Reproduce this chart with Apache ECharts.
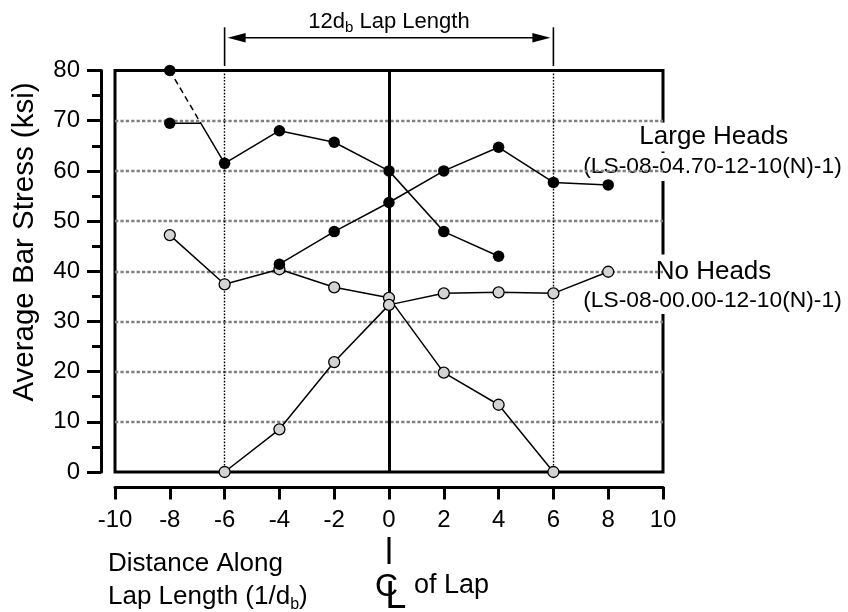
<!DOCTYPE html>
<html><head><meta charset="utf-8">
<script src="https://cdn.jsdelivr.net/npm/echarts@6/dist/echarts.min.js"></script>
<style>html,body{margin:0;padding:0;background:#fff}#c{width:848px;height:612px}</style>
</head><body><div id="c"></div>
<script>
const FONT = '"Liberation Sans", Arial, sans-serif';

// ---- data ----
// Large heads (LS-08-04.70-12-10(N)-1)
const largeDescX = [-8, -6.87, -6, -4, -2, 0, 2, 4];
const largeDescY = [69.5, 69.5, 61.5, 68.0, 65.7, 60.0, 47.9, 43.0];
const largeDescMark = [true, false, true, true, true, true, true, true];
const largeDashX = [-8, -6.87];
const largeDashY = [80, 69.5];
const largeAscX = [-4, -2, 0, 2, 4, 6, 8];
const largeAscY = [41.4, 47.9, 53.7, 60.0, 64.7, 57.7, 57.2];
// No heads (LS-08-00.00-12-10(N)-1)
const noDescX = [-8, -6, -4, -2, 0, 2, 4, 6];
const noDescY = [47.2, 37.4, 40.4, 36.8, 34.7, 19.8, 13.4, 0];
const noAscX = [-6, -4, -2, 0, 2, 4, 6, 8];
const noAscY = [0, 8.5, 21.9, 33.3, 35.6, 35.8, 35.6, 39.9];
// guides
const gridValues = [10, 20, 30, 40, 50, 60, 70];
const lapEnds = [-6, 6];
const lapCenter = 0;
const xMin = -10, xMax = 10, xStep = 2;
const yMin = 0, yMax = 80, yStep = 10;

function pts(xs, ys, marks) {
  return xs.map((x, i) => (marks && !marks[i]) ? { value: [x, ys[i]], symbol: 'none' } : [x, ys[i]]);
}

const chart = echarts.init(document.getElementById('c'), null, { renderer: 'canvas' });

const blackLine = (data, dash) => ({
  type: 'line', data, z: 6, clip: false, silent: true,
  symbol: 'circle', symbolSize: 11.5,
  lineStyle: { color: '#000', width: 1.5, type: dash || 'solid' },
  itemStyle: { color: '#000', borderWidth: 0 },
  emphasis: { disabled: true }, animation: false
});
const grayLine = (data) => ({
  type: 'line', data, z: 5, clip: false, silent: true,
  symbol: 'circle', symbolSize: 11,
  lineStyle: { color: '#000', width: 1.5 },
  itemStyle: { color: '#d3d3d3', borderColor: '#000', borderWidth: 1.3 },
  emphasis: { disabled: true }, animation: false
});

const option = {
  animation: false,
  backgroundColor: '#fff',
  grid: { left: 115, right: 185, top: 70.5, bottom: 140, show: true, borderColor: '#000', borderWidth: 3, z: 2, containLabel: false, outerBoundsMode: 'none' },
  xAxis: {
    type: 'value', min: xMin, max: xMax, interval: xStep, position: 'bottom', offset: 15, z: 0,
    axisLine: { show: true, onZero: false, lineStyle: { color: '#000', width: 3 } },
    axisTick: { show: true, length: 12.5, lineStyle: { color: '#000', width: 3 } },
    axisLabel: { color: '#000', fontSize: 24, fontFamily: FONT, margin: 21 },
    splitLine: { show: false }
  },
  yAxis: {
    type: 'value', min: yMin, max: yMax, interval: yStep, position: 'left', offset: 14, z: 0,
    axisLine: { show: true, onZero: false, lineStyle: { color: '#000', width: 3 } },
    axisTick: { show: true, length: 14, lineStyle: { color: '#000', width: 3 } },
    minorTick: { show: true, splitNumber: 2, length: 9, lineStyle: { color: '#000', width: 3 } },
    axisLabel: { color: '#000', fontSize: 24, fontFamily: FONT, margin: 21 },
    splitLine: { show: false }
  },
  series: [
    { type: 'line', data: [], z: 1, silent: true,
      markLine: { silent: true, animation: false, symbol: ['none', 'none'], label: { show: false },
        lineStyle: { color: '#808080', width: 2.3, type: [3.3, 2.1] },
        emphasis: { disabled: true },
        data: gridValues.map(v => ({ yAxis: v })) } },
    { type: 'line', data: [], z: 4, silent: true,
      markLine: { silent: true, animation: false, symbol: ['none', 'none'], label: { show: false },
        emphasis: { disabled: true },
        data: [
          ...lapEnds.map(v => ({ xAxis: v, lineStyle: { color: '#000', width: 1.4, type: [1.6, 1.6] } })),
          { xAxis: lapCenter, lineStyle: { color: '#000', width: 3, type: 'solid' } }
        ] } },
    grayLine(pts(noDescX, noDescY)),
    grayLine(pts(noAscX, noAscY)),
    blackLine(pts(largeDashX, largeDashY, [true, false]), [6, 4]),
    blackLine(pts(largeDescX, largeDescY, largeDescMark)),
    blackLine(pts(largeAscX, largeAscY))
  ]
};
chart.setOption(option);

const px = (x, y) => chart.convertToPixel({ gridIndex: 0 }, [x, y]);
const xL = px(lapEnds[0], 0)[0], xR = px(lapEnds[1], 0)[0], x0 = px(lapCenter, 0)[0];
const arrowY = 37.7;

function txt(x, y, text, size, extra, z) {
  return { type: 'text', x, y, z: z || 3, silent: true,
    style: Object.assign({ text, fontSize: size, fontFamily: FONT, fill: '#000', align: 'center', verticalAlign: 'middle' }, extra || {}) };
}
const lineEl = (x1, y1, x2, y2, w) => ({ type: 'line', silent: true, z: 4, shape: { x1, y1, x2, y2 }, style: { stroke: '#000', lineWidth: w } });

chart.setOption({
  graphic: [
    // 12db lap length annotation
    txt(x0, 21.5, '{a|12d}{s|b}{a| Lap Length}', 22, { rich: {
      a: { fontSize: 22, fontFamily: FONT, lineHeight: 28 },
      s: { fontSize: 15, fontFamily: FONT, lineHeight: 15, verticalAlign: 'bottom' } } }),
    lineEl(xL, 27.3, xL, 66, 1.6),
    lineEl(xR, 27.3, xR, 66, 1.6),
    lineEl(xL + 10, arrowY, xR - 10, arrowY, 1.6),
    { type: 'polygon', silent: true, z: 4, shape: { points: [[xL + 3, arrowY], [xL + 21, arrowY - 4.7], [xL + 21, arrowY + 4.7]] }, style: { fill: '#000' } },
    { type: 'polygon', silent: true, z: 4, shape: { points: [[xR - 3, arrowY], [xR - 21, arrowY - 4.7], [xR - 21, arrowY + 4.7]] }, style: { fill: '#000' } },
    // right labels
    txt(713.8, 137, 'Large Heads', 26, { backgroundColor: '#fff', padding: [0, 4, 3, 4] }),
    txt(712.5, 167, '(LS-08-04.70-12-10(N)-1)', 22.8, { backgroundColor: '#fff', padding: [3, 2, 2, 2] }),
    txt(713.5, 272, 'No Heads', 26, { backgroundColor: '#fff', padding: [6, 7, 3, 7] }),
    txt(712.5, 301, '(LS-08-00.00-12-10(N)-1)', 22.8, { backgroundColor: '#fff', padding: [2, 2, 1, 2] }),
    // y axis title
    Object.assign(txt(24.5, 242, 'Average Bar Stress (ksi)', 29.5), { rotation: Math.PI / 2 }),
    // x axis title
    txt(108, 564, 'Distance Along', 26, { align: 'left' }),
    txt(108, 597, '{a|Lap Length (1/d}{s|b}{a|)}', 26, { align: 'left', rich: {
      a: { fontSize: 26, fontFamily: FONT, lineHeight: 32 },
      s: { fontSize: 16, fontFamily: FONT, lineHeight: 16, verticalAlign: 'bottom' } } }),
    // centre line of lap
    lineEl(x0, 537, x0, 564, 3),
    txt(386.5, 587, 'C', 32),
    txt(385.2, 598, 'L', 38, { align: 'left' }),
    txt(414, 586, 'of Lap', 27, { align: 'left' })
  ]
});
</script>
</body></html>
